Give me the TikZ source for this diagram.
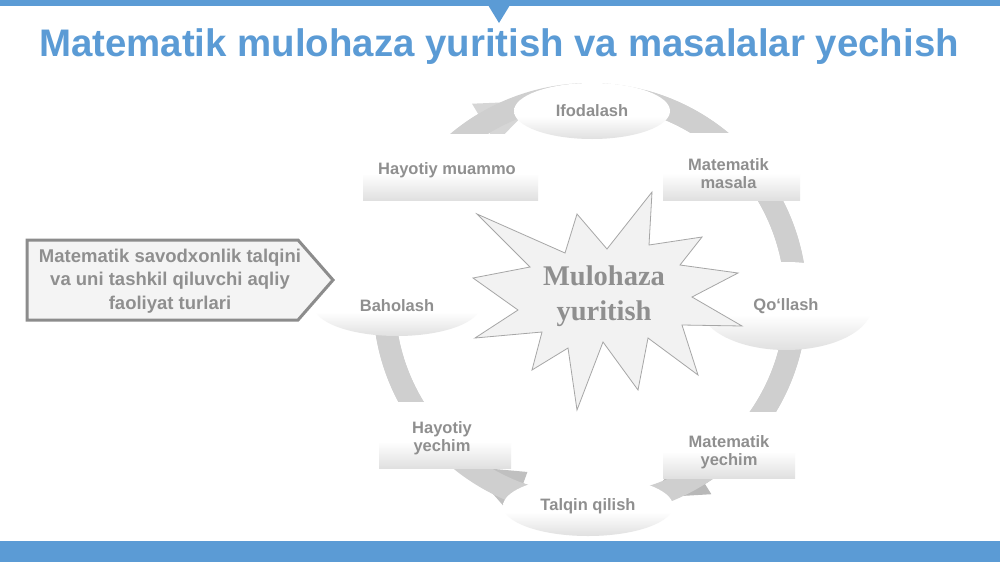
\documentclass[tikz,border=0pt]{standalone}
\usepackage{fontspec}
\setmainfont{Liberation Sans}
\newfontfamily\starfont{Liberation Serif}
\usetikzlibrary{shapes.geometric}
\definecolor{blu}{HTML}{5B9BD5}
\definecolor{lblc}{HTML}{8F8F8F}
\definecolor{boxline}{HTML}{8C8C8C}
\definecolor{boxfill}{HTML}{F4F4F4}
\definecolor{starfill}{HTML}{F2F2F2}
\definecolor{starline}{HTML}{A6A6A6}
\definecolor{nodegrey}{HTML}{E0E0E0}
\definecolor{sa}{HTML}{D6D6D6}
\definecolor{sb}{HTML}{CFCFCF}
\definecolor{sc}{HTML}{C9C9C9}
\definecolor{sd}{HTML}{C0C0C0}
\definecolor{se}{HTML}{B8B8B8}
\pgfdeclareverticalshading{nodeshade}{100bp}{color(0bp)=(nodegrey); color(25bp)=(nodegrey); color(45bp)=(white); color(100bp)=(white)}
\newcommand\cycseg[4]{%
  \fill[#4]
    (#1:217) arc[start angle=#1, end angle=#2, radius=217]
    -- (#2:229) -- (#3:206) -- (#2:183) -- (#2:195)
    arc[start angle=#2, end angle=#1, radius=195] -- cycle;}
\begin{document}
\begin{tikzpicture}[x=1pt,y=-1pt,
  lbl/.style={text=lblc, font=\fontsize{16.5}{18}\selectfont\bfseries, align=center, inner sep=0pt},
  ebox/.style={ellipse, shade, shading=nodeshade, inner sep=0pt, text=lblc, font=\fontsize{16.5}{18}\selectfont\bfseries},
  rbox/.style={rectangle, shade, shading=nodeshade, inner sep=0pt},
  bar/.style={fill=blu, draw=none},
]
\useasboundingbox (0,0) rectangle (1000,562);
\fill[white] (0,0) rectangle (1000,562);
% bars
\path[bar] (0,0) rectangle (1000,6);
\path[bar] (488,5) -- (510,5) -- (499,23) -- cycle;
\path[bar] (0,541) rectangle (1000,562);
% title
\node[text=blu, font=\fontsize{38.4}{44}\selectfont\bfseries] (title) at (499,47) {Matematik mulohaza yuritish va masalalar yechish};
% ring segments
\begin{scope}[shift={(590,300)}]
  \cycseg{-140}{-121}{-105}{sa}
  \cycseg{-75}{-44}{-31}{sb}
  \cycseg{-35}{-6}{8}{sc}
  \cycseg{10}{40}{52}{sc}
  \cycseg{45}{58}{74}{se}
  \cycseg{90}{110}{126}{sd}
  \cycseg{135}{172}{186}{sc}
  \cycseg{180}{-146}{-132}{sb}
\end{scope}
% cycle nodes
\node[ebox, minimum width=156, minimum height=56] (ifo) at (592,111) {Ifodalash};
\node[ebox, minimum width=172, minimum height=88] (qol) at (786,306) {Qo‘llash};
\node[ebox, minimum width=170, minimum height=60] (tal) at (588,506) {Talqin qilish};
\node[ebox, minimum width=166, minimum height=60] (bah) at (397,306) {Baholash};
\node[rbox, minimum width=175, minimum height=66] (hmb) at (450.5,167) {};
\node[lbl] (hm) at (447,170) {Hayotiy muammo};
\node[rbox, minimum width=137, minimum height=67] (mmb) at (731.5,166.5) {};
\node[lbl] (mm) at (728.5,174) {Matematik\\masala};
\node[rbox, minimum width=132, minimum height=66] (myb) at (729,445) {};
\node[lbl] (my) at (729,452) {Matematik\\yechim};
\node[rbox, minimum width=132, minimum height=66] (hyb) at (445,435) {};
\node[lbl] (hy) at (442,438) {Hayotiy\\yechim};
% star
\draw[fill=starfill, draw=starline, line width=0.8pt, line join=miter]
  (477,214) -- (565,253) -- (577,214) -- (607,249) -- (652,192) -- (649,245)
  -- (702,237) -- (680,265) -- (738,273) -- (692,297) -- (742,326) -- (682,325)
  -- (698,375) -- (648,338) -- (638,390) -- (603,342) -- (577,410) -- (568,348)
  -- (532,370) -- (542,332) -- (475,338) -- (518,310) -- (473,278) -- (530,267) -- cycle;
\node[text=lblc, font=\starfont\fontsize{28.5}{35}\selectfont\bfseries, align=center, inner sep=0pt] (mul) at (604,296) {Mulohaza\\yuritish};
% left pointer box
\draw[fill=boxfill, draw=boxline, line width=3pt, line join=miter]
  (27,240) -- (298,240) -- (333,280) -- (298,320) -- (27,320) -- cycle;
\node[text=lblc, font=\fontsize{18.5}{23.5}\selectfont\bfseries, align=center, inner sep=0pt] (left) at (170,281)
  {Matematik savodxonlik talqini\\va uni tashkil qiluvchi aqliy\\faoliyat turlari};
\end{tikzpicture}
\end{document}
